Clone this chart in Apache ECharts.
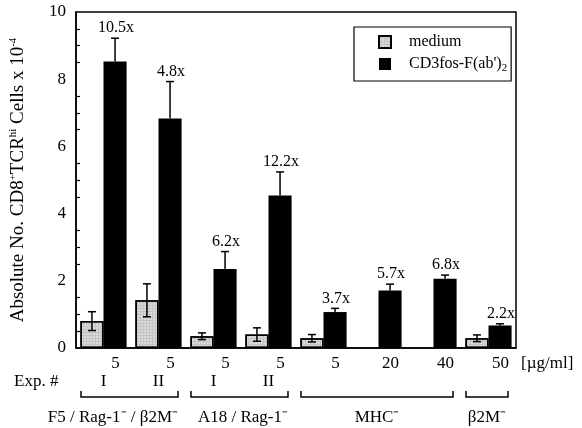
<!DOCTYPE html>
<html>
<head>
<meta charset="utf-8">
<script src="https://cdn.jsdelivr.net/npm/echarts@6/dist/echarts.min.js"></script>
<style>
html, body { margin: 0; padding: 0; background: #fff; }
#main { width: 582px; height: 428px; }
</style>
</head>
<body>
<div id="main"></div>
<script>
// values (cells x 10^-4)
const categories = ['F5 I', 'F5 II', 'A18 I', 'A18 II', 'MHC 5', 'MHC 20', 'MHC 40', 'B2M 50'];
const doseLabels = ['5', '5', '5', '5', '5', '20', '40', '50'];
const expLabels = ['I', 'II', 'I', 'II', '', '', '', ''];
const mediumValues = [0.8, 1.42, 0.35, 0.4, 0.29, null, null, 0.29];
const mediumErrors = [0.28, 0.49, 0.1, 0.2, 0.11, null, null, 0.1];
const cd3Values = [8.53, 6.83, 2.35, 4.54, 1.07, 1.71, 2.06, 0.67];
const cd3Errors = [0.69, 1.1, 0.52, 0.7, 0.11, 0.19, 0.11, 0.05];
const foldLabels = ['10.5x', '4.8x', '6.2x', '12.2x', '3.7x', '5.7x', '6.8x', '2.2x'];
const groupNames = ['F5 / Rag-1⁻ / β2M⁻', 'A18 / Rag-1⁻', 'MHC⁻', 'β2M⁻'];
const groupFrom = [0, 2, 4, 7];
const groupTo = [1, 3, 6, 7];

const FONT = 'Liberation Serif';
const catGap = 0.16;
let chart = echarts.init(document.getElementById('main'));

const errorSeries = (values, errors, side, both, labels) => {
   let data = [];
   values.forEach((v, i) => {
      if (v != null) data.push([i, v, errors[i]]);
   });
   return {
      type: 'custom',
      z: 5,
      data: data,
      renderItem: (params, api) => {
         const i = api.value(0), v = api.value(1), e = api.value(2);
         const band = api.size([1, 0])[0];
         const off = side * band * (1 - catGap) / 4;
         const hi = api.coord([i, v + e]);
         const lo = api.coord([i, both ? v - e : v]);
         const x = hi[0] + off;
         const st = { stroke: '#000', lineWidth: 1.5 };
         let children = [
            { type: 'line', shape: { x1: x, y1: hi[1], x2: x, y2: lo[1] }, style: st },
            { type: 'line', shape: { x1: x - 4, y1: hi[1], x2: x + 4, y2: hi[1] }, style: st },
         ];
         if (both) {
            children.push({ type: 'line', shape: { x1: x - 4, y1: lo[1], x2: x + 4, y2: lo[1] }, style: st });
         }
         if (labels) {
            children.push({
               type: 'text',
               style: {
                  text: labels[i], x: x + 1, y: hi[1] - 2,
                  align: 'center', verticalAlign: 'bottom',
                  font: '16px "' + FONT + '"', fill: '#000'
               }
            });
         }
         return { type: 'group', children: children };
      }
   };
};

let option = {
   animation: false,
   textStyle: { fontFamily: FONT, color: '#000' },
   grid: { left: 74, right: 66, top: 12, bottom: 80, show: true, borderColor: '#000', borderWidth: 1.5 },
   legend: {
      orient: 'vertical',
      left: 354, top: 27,
      padding: [7, 4, 7, 24],
      icon: 'rect',
      itemWidth: 12, itemHeight: 12, itemGap: 6,
      borderColor: '#000', borderWidth: 1.2,
      textStyle: {
         fontFamily: FONT, fontSize: 16, color: '#000', padding: [0, 0, 0, 13],
         rich: { sub: { fontFamily: FONT, fontSize: 11, padding: [9, 0, 0, 0] } }
      },
      formatter: (name) => name == 'cd3' ? "CD3fos-F(ab')" + '{sub|2}' : name,
      data: ['medium', 'cd3']
   },
   xAxis: [
      {
         type: 'category',
         data: categories,
         axisLine: { lineStyle: { color: '#000', width: 1.5 } },
         axisTick: { length: 6, interval: 0, lineStyle: { color: '#000', width: 1.5 } },
         axisLabel: {
            interval: 0, margin: 7, fontSize: 17, color: '#000', fontFamily: FONT,
            padding: [0, 0, 0, 24],
            formatter: (v, i) => doseLabels[i]
         }
      },
      {
         type: 'category',
         position: 'bottom',
         data: categories,
         axisLine: { show: false },
         axisTick: { inside: true, length: 6, interval: 0, lineStyle: { color: '#000', width: 1.5 } },
         axisLabel: { show: false }
      }
   ],
   yAxis: [
      {
         type: 'value',
         min: 0, max: 10, interval: 2,
         name: 'Absolute No. CD8{sup|+}TCR{sup|hi} Cells x 10{sup|-4}',
         nameLocation: 'middle',
         nameGap: 48,
         nameTextStyle: {
            fontFamily: FONT, fontSize: 19, color: '#000',
            rich: { sup: { fontFamily: FONT, fontSize: 11, padding: [0, 0, 9, 0] } }
         },
         splitLine: { show: false },
         axisLine: { show: true, lineStyle: { color: '#000', width: 1.5 } },
         axisTick: { length: 6, lineStyle: { color: '#000', width: 1.5 } },
         axisLabel: { margin: 10, fontSize: 17, color: '#000', fontFamily: FONT }
      },
      {
         type: 'value',
         position: 'left',
         min: 0, max: 10, interval: 2,
         splitLine: { show: false },
         axisLine: { show: false },
         axisLabel: { show: false },
         axisTick: { inside: true, length: 6, lineStyle: { color: '#000', width: 1.5 } },
         minorTick: { show: true, splitNumber: 4, length: 4, lineStyle: { color: '#000', width: 1.2 } },
         minorSplitLine: { show: false }
      }
   ],
   series: [
      {
         name: 'medium',
         type: 'bar',
         data: mediumValues.map(v => v == null ? '-' : v),
         barGap: '0%',
         barCategoryGap: (catGap * 100) + '%',
         itemStyle: {
            color: '#c4c4c4', borderColor: '#000', borderWidth: 1.5,
            decal: { symbol: 'rect', symbolSize: 0.7, color: 'rgba(255,255,255,0.75)', dashArrayX: [2, 1], dashArrayY: [2, 1] }
         }
      },
      {
         name: 'cd3',
         type: 'bar',
         data: cd3Values,
         itemStyle: { color: '#000' }
      },
      errorSeries(mediumValues, mediumErrors, -1, true, null),
      errorSeries(cd3Values, cd3Errors, 1, false, foldLabels)
   ]
};
chart.setOption(option);

// texts and brackets under the axis, placed from the category scale
const px = (i) => chart.convertToPixel({ xAxisIndex: 0 }, i);
const band = px(1) - px(0);
const yExp = 382, yBr = 397, yGroup = 418;
const groupAlign = ['right', 'right', 'center', 'center'];
const textFont = '17px "' + FONT + '"';
let graphics = [];
graphics.push({ type: 'text', x: 14, y: yExp, style: { text: 'Exp. #', font: textFont, fill: '#000', verticalAlign: 'middle' } });
graphics.push({ type: 'text', x: 521, y: 364, style: { text: '[µg/ml]', font: textFont, fill: '#000', verticalAlign: 'middle' } });
expLabels.forEach((t, i) => {
   if (t) graphics.push({ type: 'text', x: px(i), y: yExp, style: { text: t, font: textFont, fill: '#000', align: 'center', verticalAlign: 'middle' } });
});
groupNames.forEach((g, k) => {
   const x1 = px(groupFrom[k]) - band / 2 + 5;
   const x2 = px(groupTo[k]) + band / 2 - 8;
   graphics.push({
      type: 'polyline',
      shape: { points: [[x1, yBr - 6], [x1, yBr], [x2, yBr], [x2, yBr - 6]] },
      style: { stroke: '#000', lineWidth: 1.5, fill: null }
   });
   const tx = groupAlign[k] == 'right' ? x2 : (x1 + x2) / 2;
   graphics.push({ type: 'text', x: tx, y: yGroup, style: { text: g, font: textFont, fill: '#000', align: groupAlign[k], verticalAlign: 'middle' } });
});
chart.setOption({ graphic: graphics });
</script>
</body>
</html>
